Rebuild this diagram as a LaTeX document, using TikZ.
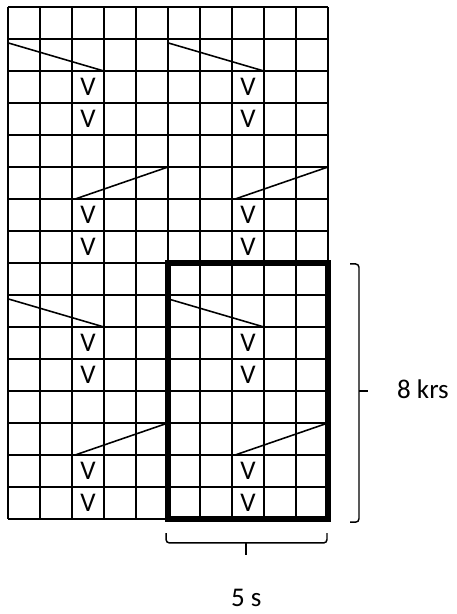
\documentclass[tikz,border=0pt]{standalone}
\usepackage{fontspec}
\setmainfont{Carlito}
\usetikzlibrary{positioning}

\begin{document}
\begin{tikzpicture}[every node/.style={inner sep=0pt, font=\fontsize{24}{28}\selectfont},
  gridline/.style={line width=2.2pt},
  repeatbox/.style={line width=5.2pt},
  slipline/.style={line width=1.4pt},
  bracket/.style={line width=1.3pt, rounded corners=3pt}]
\useasboundingbox (-0.25,-2.97) rectangle (14.03,16.22);
\draw[gridline] (0,0) grid (10,16);
% slipped stitches
\foreach \c in {2,7}
  \foreach \r in {0,1,4,5,8,9,12,13}
    \node (v\c-\r) at (\c+0.5,\r+0.5) {V};
% crossing lines
\foreach \x in {0,5}
  \foreach \y in {0,8} {
    \draw[slipline] (\x,\y+6.88) -- (\x+3,\y+6);
    \draw[slipline] (\x+2.1,\y+2) -- (\x+5,\y+3);
  }
\draw[repeatbox] (5,0) rectangle (10,8);
% brackets
\coordinate (rtop) at (10.69,7.97);
\coordinate (rbot) at (10.69,-0.1);
\coordinate (rtip) at (11.25,4);
\draw[bracket] (rbot) -- (10.97,-0.1) -- (10.97,7.97) -- (rtop);
\draw[line width=1.3pt] (10.97,4) -- (rtip);
\coordinate (bleft) at (4.94,-0.44);
\coordinate (bright) at (9.97,-0.44);
\coordinate (btip) at (7.45,-1.13);
\draw[bracket] (bleft) -- (4.94,-0.75) -- (9.97,-0.75) -- (bright);
\draw[line width=1.8pt] (7.45,-0.75) -- (btip);
\node (krs) [anchor=base] at (12.97,3.78) {8 krs};
\node (sts) [anchor=base] at (7.45,-2.75) {5 s};
\end{tikzpicture}
\end{document}
